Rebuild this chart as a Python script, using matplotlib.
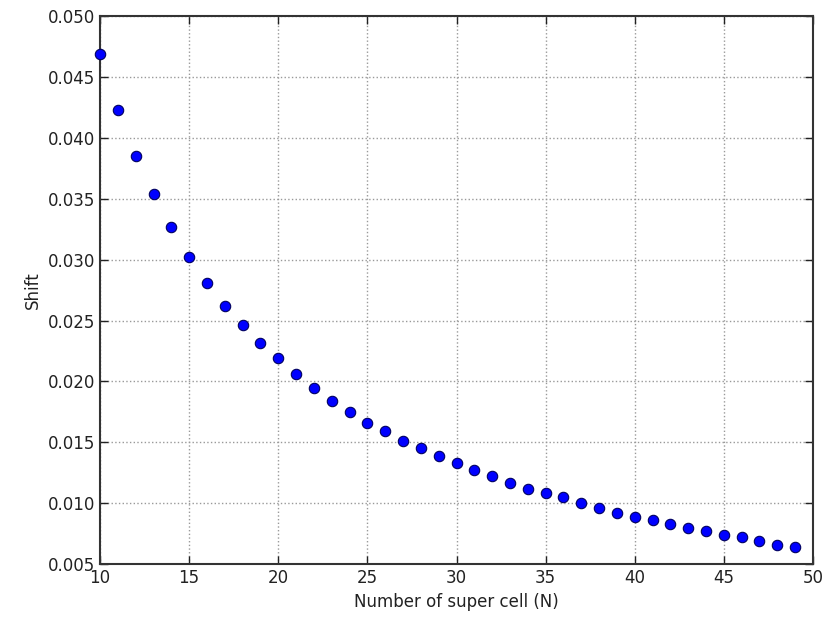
import matplotlib
matplotlib.use("Agg")
import matplotlib.pyplot as plt

N = list(range(10, 50))
shift = [0.0469, 0.0423, 0.0385, 0.0354, 0.0327, 0.0302, 0.0281, 0.0262, 0.0246, 0.0232,
         0.0219, 0.0206, 0.0195, 0.0184, 0.0175, 0.0166, 0.0159, 0.0151, 0.0145, 0.0139,
         0.0133, 0.0127, 0.0122, 0.0117, 0.0112, 0.0108, 0.0105, 0.0100, 0.0096, 0.0092,
         0.0089, 0.0086, 0.0083, 0.0080, 0.0077, 0.0074, 0.0072, 0.0069, 0.0066, 0.0064]
xticks = [10, 15, 20, 25, 30, 35, 40, 45, 50]
yticks = [0.005, 0.010, 0.015, 0.020, 0.025, 0.030, 0.035, 0.040, 0.045, 0.050]

fig = plt.figure(figsize=(8.27, 6.24), dpi=100)
ax = fig.add_axes([0.121, 0.096, 0.862, 0.878])
ax.plot(N, shift, 'o', color='#0000ff', markeredgecolor='#000060',
        markeredgewidth=0.8, markersize=7.5, clip_on=False, zorder=3)
ax.set_xlim(10, 50)
ax.set_ylim(0.005, 0.050)
ax.set_xticks(xticks)
ax.set_yticks(yticks)
ax.set_yticklabels([f"{v:.3f}" for v in yticks])
ax.grid(True, linestyle=':', color='#999999', linewidth=1.0)
ax.tick_params(direction='in', length=6, width=1, labelsize=12, colors='#222222',
               top=True, right=True)
for s in ax.spines.values():
    s.set_linewidth(1.5)
    s.set_color('#333333')
ax.set_xlabel('Number of super cell (N)', fontsize=12, color='#222222')
ax.set_ylabel('Shift', fontsize=12, color='#222222')
fig.savefig('out.png', dpi=100)
